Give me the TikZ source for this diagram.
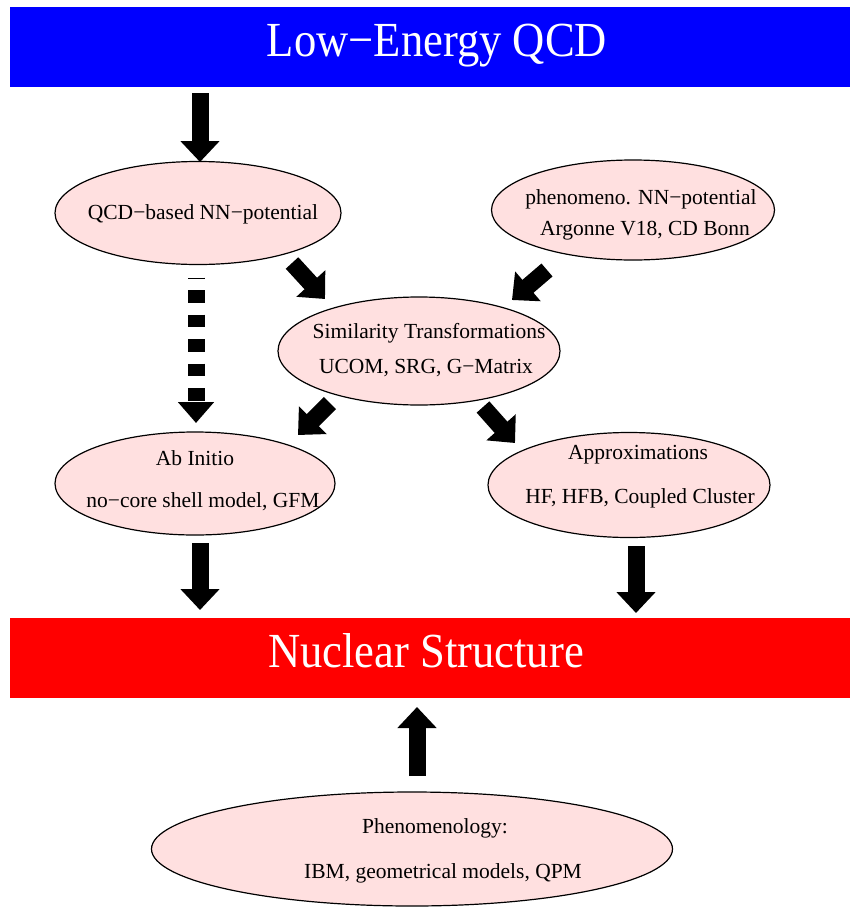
\documentclass[tikz,border=0pt]{standalone}
\usepackage{fontspec}
\setmainfont{Liberation Serif}
\usetikzlibrary{shapes.geometric,arrows.meta}
\definecolor{pinkfill}{RGB}{255,224,224}
\definecolor{topblue}{RGB}{0,0,255}
\definecolor{botred}{RGB}{255,0,0}
\tikzset{
  bubble/.style={ellipse,draw=black,line width=1.2pt,fill=pinkfill,inner sep=0pt},
  banner/.style={rectangle,inner sep=0pt,anchor=north west},
  bannertext/.style={text=white,font=\fontsize{49}{52}\selectfont,xscale=0.91,inner sep=0pt},
  lbl/.style={font=\fontsize{21.5}{24}\selectfont,inner sep=0pt},
  blockarrow/.style={line width=17pt,line cap=butt,-{Triangle[width=38pt,length=21pt]}},
  dasharrow/.style={line width=17pt,line cap=butt,-{Triangle[width=35pt,length=21pt]},
    dash pattern=on 1pt off 11.5pt on 12.5pt off 12pt on 12.5pt off 12pt on 12.5pt off 12pt on 12.5pt off 12pt on 12.5pt off 12pt}
}
\begin{document}
\begin{tikzpicture}[x=1pt,y=-1pt]
\useasboundingbox (0,0) rectangle (850,908);
% banners
\node[banner,fill=topblue,minimum width=840pt,minimum height=80pt] (qcdbox) at (10,7) {};
\node[bannertext] (qcdtxt) at (437,46) {Low−Energy QCD};
\node[banner,fill=botred,minimum width=840pt,minimum height=80pt] (nsbox) at (10,618) {};
\node[bannertext] (nstxt) at (426,651) {Nuclear Structure};
% ellipses
\node[bubble,minimum width=286pt,minimum height=103pt] (e1) at (198,213) {};
\node[lbl] (e1a) at (203,214) {QCD−based NN−potential};
\node[bubble,minimum width=283pt,minimum height=100pt] (e2) at (633,210) {};
\node[lbl] (e2a) at (641,199) {phenomeno. NN−potential};
\node[lbl] (e2b) at (645,231) {Argonne V18, CD Bonn};
\node[bubble,minimum width=282pt,minimum height=108pt] (e3) at (419,351) {};
\node[lbl] (e3a) at (429,333) {Similarity Transformations};
\node[lbl] (e3b) at (426,368) {UCOM, SRG, G−Matrix};
\node[bubble,minimum width=280pt,minimum height=103pt] (e4) at (195,483.5) {};
\node[lbl] (e4a) at (195,458) {Ab Initio};
\node[lbl] (e4b) at (203,502) {no−core shell model, GFM};
\node[bubble,minimum width=282pt,minimum height=105pt] (e5) at (629,485) {};
\node[lbl] (e5a) at (638,455) {Approximations};
\node[lbl] (e5b) at (640,498) {HF, HFB, Coupled Cluster};
\node[bubble,minimum width=521pt,minimum height=114pt] (e6) at (412,849) {};
\node[lbl] (e6a) at (435,828) {Phenomenology:};
\node[lbl] (e6b) at (443,873) {IBM, geometrical models, QPM};
% arrow end points
\coordinate (a1s) at (200,93);   \coordinate (a1e) at (200,162);
\coordinate (a2s) at (196,277.5);\coordinate (a2e) at (196,423);
\coordinate (a3s) at (292,263);  \coordinate (a3e) at (325,299);
\coordinate (a4s) at (547,270);  \coordinate (a4e) at (512,300);
\coordinate (a5s) at (330,403);  \coordinate (a5e) at (298,435);
\coordinate (a6s) at (483,407);  \coordinate (a6e) at (515,443);
\coordinate (a7s) at (200,543);  \coordinate (a7e) at (200,610);
\coordinate (a8s) at (636,546);  \coordinate (a8e) at (636,613);
\coordinate (a9s) at (417,776);  \coordinate (a9e) at (417,707);
\draw[blockarrow] (a1s) -- (a1e);
\draw[dasharrow] (a2s) -- (a2e);
\draw[blockarrow] (a3s) -- (a3e);
\draw[blockarrow] (a4s) -- (a4e);
\draw[blockarrow] (a5s) -- (a5e);
\draw[blockarrow] (a6s) -- (a6e);
\draw[blockarrow] (a7s) -- (a7e);
\draw[blockarrow] (a8s) -- (a8e);
\draw[blockarrow] (a9s) -- (a9e);
\end{tikzpicture}
\end{document}
